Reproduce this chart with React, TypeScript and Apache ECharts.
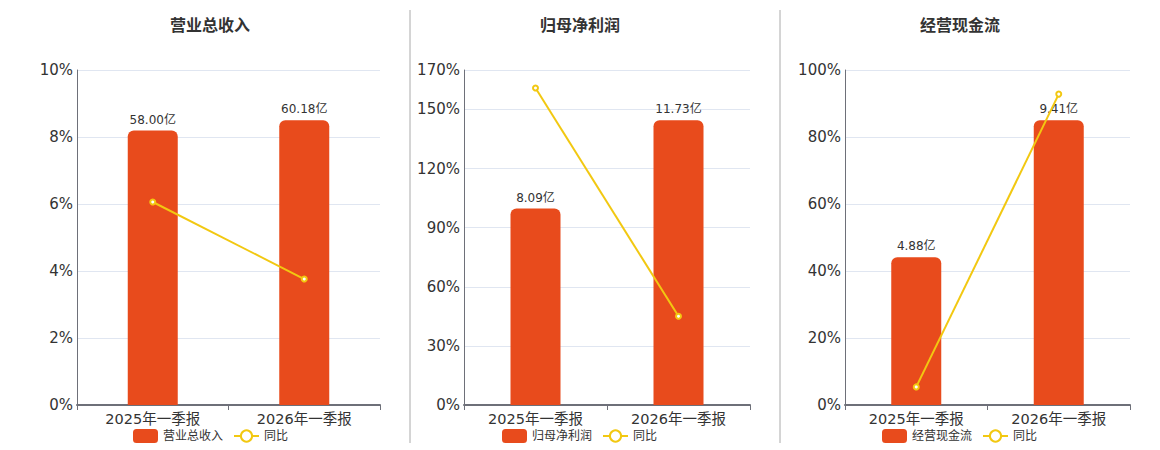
import React, { useEffect, useRef } from "react";
import * as echarts from "echarts";

const categories = ["2025年一季报", "2026年一季报"];
const titles = ["营业总收入", "归母净利润", "经营现金流"];
const revenue = [58.0, 60.18];
const revenueYoY = [6.06, 3.76];
const netProfit = [8.09, 11.73];
const netProfitYoY = [160.9, 45.0];
const cashFlow = [4.88, 9.41];
const cashFlowYoY = [5.4, 92.8];
const pctAxisMax = [10, 170, 100];
const pctAxisInterval = [2, 30, 20];

const FONT = "DejaVu Sans, Noto Sans CJK SC, sans-serif";
const BAR_COLOR = "#E84B1C";
const LINE_COLOR = "#F2C811";

export default function App() {
  const ref = useRef<HTMLDivElement>(null);
  useEffect(() => {
    if (!ref.current) return;
    const chart = echarts.init(ref.current, undefined, { renderer: "svg" });
    const bars = [revenue, netProfit, cashFlow];
    const lines = [revenueYoY, netProfitYoY, cashFlowYoY];
    const grids = [
      { left: 77, top: 70, width: 303, height: 335 },
      { left: 464, top: 70, width: 286, height: 335 },
      { left: 845, top: 70, width: 285, height: 335 },
    ];
    const titleX = [205, 575, 955];
    const legendLeft = [128, 497, 877];
    const option: any = {
      animation: false,
      textStyle: { fontFamily: FONT },
      title: titles.map((t, i) => ({
        text: t,
        left: titleX[i],
        top: 12,
        textAlign: "center",
        textStyle: { fontSize: 16, fontWeight: "bold", color: "#333", fontFamily: FONT },
      })),
      legend: titles.map((t, i) => ({
        data: [t, "同比"],
        left: legendLeft[i],
        top: 424,
        itemWidth: 25,
        itemHeight: 14,
        itemGap: 10,
        textStyle: { fontSize: 12, color: "#333", fontFamily: FONT },
      })),
      grid: grids,
      xAxis: grids.map((_, i) => ({
        type: "category",
        gridIndex: i,
        data: categories,
        axisLine: { lineStyle: { color: "#6E7079", width: 2 } },
        axisTick: { show: true, length: 5, lineStyle: { color: "#6E7079" } },
        axisLabel: { fontSize: 14.5, color: "#333", margin: 7, fontFamily: FONT },
      })),
      yAxis: [
        ...grids.map((_, i) => ({
          type: "value",
          gridIndex: i,
          min: 0,
          max: pctAxisMax[i],
          interval: pctAxisInterval[i],
          axisLine: { show: true, lineStyle: { color: "#6E7079", width: 1 } },
          axisTick: { show: false },
          axisLabel: { fontSize: 15, color: "#333", margin: 4, formatter: "{value}%", fontFamily: FONT },
          splitLine: { lineStyle: { color: "#E0E6F1" } },
        })),
        ...grids.map((_, i) => ({
          type: "value",
          gridIndex: i,
          min: 0,
          max: Math.max(...bars[i]) / 0.85,
          show: false,
          splitLine: { show: false },
        })),
      ],
      series: [
        ...titles.map((t, i) => ({
          name: t,
          type: "bar",
          xAxisIndex: i,
          yAxisIndex: 3 + i,
          data: bars[i],
          barWidth: 50,
          itemStyle: { color: BAR_COLOR, borderRadius: [6, 6, 0, 0] },
          label: {
            show: true,
            position: "top",
            color: "#333",
            fontSize: 12,
            fontFamily: FONT,
            formatter: (p: any) => `${Number(p.value).toFixed(2)}亿`,
          },
        })),
        ...titles.map((_, i) => ({
          name: "同比",
          type: "line",
          xAxisIndex: i,
          yAxisIndex: i,
          data: lines[i],
          symbol: "emptyCircle",
          symbolSize: 5,
          lineStyle: { color: LINE_COLOR, width: 2 },
          itemStyle: { color: LINE_COLOR },
          z: 5,
        })),
      ],
      graphic: [410, 780].map((x) => ({
        type: "line",
        shape: { x1: x, y1: 10, x2: x, y2: 443 },
        style: { stroke: "#AAAAAA", lineWidth: 1 },
      })),
    };
    chart.setOption(option);
    return () => chart.dispose();
  }, []);
  return (
    <div
      ref={ref}
      style={{ position: "fixed", left: 0, top: 0, width: 1160, height: 450, background: "#fff" }}
    />
  );
}
